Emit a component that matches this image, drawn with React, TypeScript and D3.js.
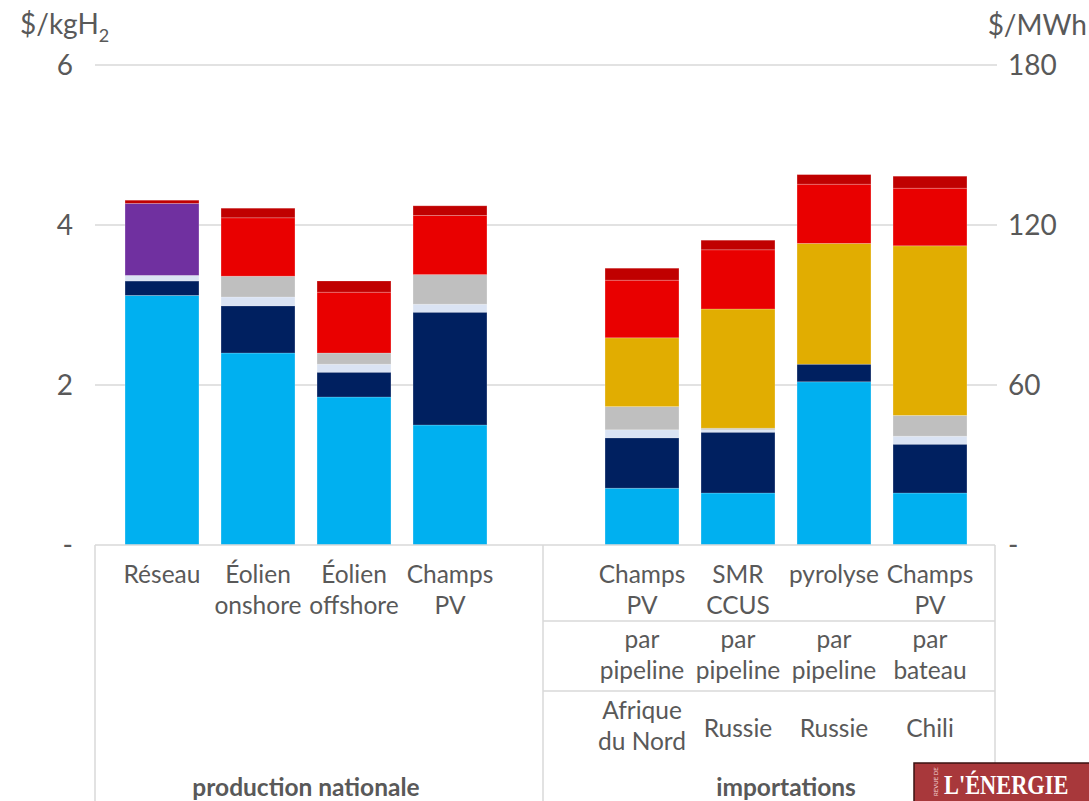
import React, { useRef, useEffect } from 'react';
import * as d3 from 'd3';

// bar order: 4 national + gap + 4 imports
const slots = ["n0", "n1", "n2", "n3", "gap", "i0", "i1", "i2", "i3"];
const barSlots = ["n0", "n1", "n2", "n3", "i0", "i1", "i2", "i3"];

const techLabels = [["Réseau"], ["Éolien", "onshore"], ["Éolien", "offshore"], ["Champs", "PV"],
    ["Champs", "PV"], ["SMR", "CCUS"], ["pyrolyse"], ["Champs", "PV"]];
const modeLabels = [["par", "pipeline"], ["par", "pipeline"], ["par", "pipeline"], ["par", "bateau"]];
const originLabels = [["Afrique", "du Nord"], ["Russie"], ["Russie"], ["Chili"]];
const groupLabels = ["production nationale", "importations"];

// $/kgH2, one value per bar, bottom to top
const electricite = [3.12, 2.40, 1.85, 1.50, 0.71, 0.65, 2.04, 0.65];
const capex = [0.18, 0.59, 0.31, 1.41, 0.63, 0.76, 0.22, 0.61];
const opex = [0.07, 0.11, 0.10, 0.10, 0.10, 0.03, 0, 0.10];
const stockage = [0, 0.26, 0.14, 0.37, 0.29, 0.02, 0, 0.26];
const transport = [0, 0, 0, 0, 0.86, 1.49, 1.51, 2.12];
const reseau = [0.90, 0, 0, 0, 0, 0, 0, 0];
const distribution = [0, 0.73, 0.76, 0.74, 0.72, 0.74, 0.74, 0.72];
const marge = [0.04, 0.12, 0.14, 0.12, 0.15, 0.12, 0.12, 0.15];

const seriesKeys = ["electricite", "capex", "opex", "stockage", "transport", "reseau", "distribution", "marge"];
const seriesColors = ["#00B0F0", "#002060", "#DAE3F3", "#BFBFBF", "#E1AD01", "#7030A0", "#E90000", "#C00000"];

const leftTicks = [0, 2, 4, 6];
const leftTickLabels = ["-", "2", "4", "6"];
const rightTickLabels = ["-", "60", "120", "180"];

const FONT = "Lato, 'Open Sans', sans-serif";
const GREY = "#595959";

const CostChart: React.FC = () => {
    const ref = useRef<SVGSVGElement>(null);

    useEffect(() => {
        if (!ref.current) return;
        const svg = d3.select(ref.current);
        svg.selectAll("*").remove();

        const width = 1089, height = 801;
        const plotLeft = 95, plotRight = 997, tableRight = 995;
        const row1 = 621, row2 = 691;

        const yScale = d3.scaleLinear().domain([0, 6]).range([545, 65]);
        const xScale = d3.scaleBand().domain(slots).range([114, 978])
            .paddingInner(0.23).paddingOuter(0.115);
        const bw = xScale.bandwidth();
        const cx = (s: string) => (xScale(s) as number) + bw / 2;

        svg.attr("viewBox", `0 0 ${width} ${height}`)
            .style("font-family", FONT);

        // grid
        svg.append("g").selectAll("line")
            .data(leftTicks.filter(d => d > 0))
            .enter().append("line")
            .attr("x1", plotLeft).attr("x2", plotRight)
            .attr("y1", d => yScale(d)).attr("y2", d => yScale(d))
            .attr("stroke", "#D9D9D9").attr("stroke-width", 1.5);

        // stacked bars
        const rows = barSlots.map((s, i) => ({
            slot: s,
            electricite: electricite[i], capex: capex[i], opex: opex[i], stockage: stockage[i],
            transport: transport[i], reseau: reseau[i], distribution: distribution[i], marge: marge[i],
        }));
        const stacked = d3.stack<any>().keys(seriesKeys)(rows);

        svg.append("g").selectAll("g")
            .data(stacked)
            .enter().append("g")
            .attr("fill", (d, i) => seriesColors[i])
            .selectAll("rect")
            .data(d => d.filter(p => p[1] - p[0] > 0))
            .enter().append("rect")
            .attr("x", d => xScale(d.data.slot) as number)
            .attr("width", bw)
            .attr("y", d => yScale(d[1]))
            .attr("height", d => yScale(d[0]) - yScale(d[1]))
            .attr("stroke", "rgba(255,255,255,0.25)").attr("stroke-width", 0.8);

        // table lines
        const divider = (xScale("n3") as number + bw + (xScale("i0") as number)) / 2 - 3;
        const lines = svg.append("g").attr("stroke", "#D9D9D9").attr("stroke-width", 1.5);
        lines.append("line").attr("x1", plotLeft).attr("x2", tableRight).attr("y1", yScale(0)).attr("y2", yScale(0));
        [plotLeft, divider, tableRight].forEach(x =>
            lines.append("line").attr("x1", x).attr("x2", x).attr("y1", yScale(0)).attr("y2", height));
        [row1, row2].forEach(y =>
            lines.append("line").attr("x1", divider).attr("x2", tableRight).attr("y1", y).attr("y2", y));

        // axis labels
        svg.append("g").selectAll("text")
            .data(leftTicks)
            .enter().append("text")
            .attr("x", 73).attr("y", d => yScale(d) + 10)
            .attr("text-anchor", "end")
            .attr("fill", GREY).style("font-size", "28px")
            .text((d, i) => leftTickLabels[i]);

        svg.append("g").selectAll("text")
            .data(leftTicks)
            .enter().append("text")
            .attr("x", 1008).attr("y", d => yScale(d) + 10)
            .attr("fill", GREY).style("font-size", "28px")
            .text((d, i) => rightTickLabels[i]);

        const unitL = svg.append("text").attr("x", 20).attr("y", 34)
            .attr("fill", GREY).style("font-size", "28px");
        unitL.append("tspan").text("$/kgH");
        unitL.append("tspan").attr("dy", 8).style("font-size", "18px").text("2");

        svg.append("text").attr("x", 1087).attr("y", 35).attr("text-anchor", "end")
            .attr("fill", GREY).style("font-size", "28px").text("$/MWh");

        // multi-line category labels
        const multi = (lbls: string[][], xs: number[], yTop: number, ySingle?: number) => {
            lbls.forEach((l, i) => {
                const t = svg.append("text").attr("x", xs[i]).attr("text-anchor", "middle")
                    .attr("fill", GREY).style("font-size", "24.5px");
                const y0 = l.length === 1 && ySingle !== undefined ? ySingle : yTop;
                l.forEach((line, j) => {
                    t.append("tspan").attr("x", xs[i]).attr("y", y0 + j * 31 + 8).text(line);
                });
            });
        };
        multi(techLabels, barSlots.map(cx), 575);
        const importX = barSlots.slice(4).map(cx);
        multi(modeLabels, importX, 640);
        multi(originLabels, importX, 711, 729);

        const groupX = [(cx("n0") + cx("n3")) / 2, (cx("i0") + cx("i3")) / 2];
        svg.append("g").selectAll("text")
            .data(groupLabels)
            .enter().append("text")
            .attr("x", (d, i) => groupX[i]).attr("y", 796)
            .attr("text-anchor", "middle").attr("fill", GREY)
            .style("font-size", "24.5px").style("font-weight", "bold")
            .text(d => d);

        // publisher badge
        const logo = svg.append("g");
        logo.append("rect").attr("x", 914).attr("y", 763).attr("width", 180).attr("height", 45)
            .attr("fill", "#A8383B").attr("stroke", "#3A1212").attr("stroke-width", 1.5);
        logo.append("text")
            .attr("transform", "translate(944,794) scale(0.8,1)")
            .attr("fill", "white").style("font-family", "'Liberation Serif', serif")
            .style("font-weight", "bold").style("font-size", "28px")
            .text("L'ÉNERGIE");
        logo.append("text")
            .attr("transform", "translate(938,796) rotate(-90)")
            .attr("fill", "#F2D6D6").style("font-size", "6px")
            .text("REVUE DE");
    }, []);

    return <svg ref={ref} width={1089} height={801} style={{ position: "absolute", left: 0, top: 0 }} />;
};

export default function App() {
    return <CostChart />;
}
